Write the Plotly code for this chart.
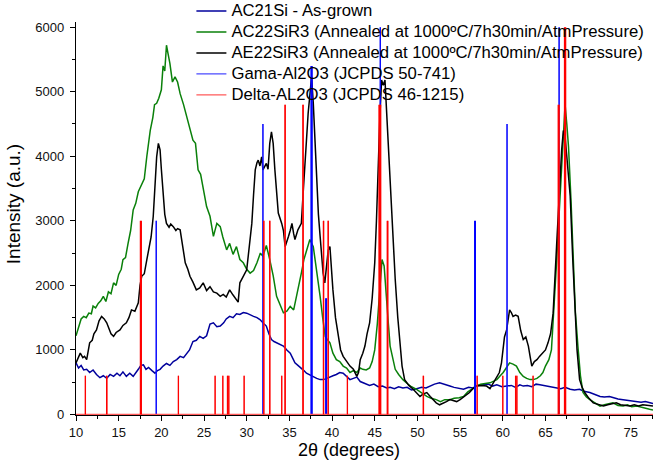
import plotly.graph_objects as go

# ---------------- data ----------------
ac21_x = [10.0,10.3,10.6,10.9,11.25,11.6,12.0,12.4,12.8,13.2,13.6,14.0,14.4,14.8,15.15,15.5,15.9,16.3,16.7,17.0,
          17.3,17.6,17.9,18.2,18.5,18.9,19.25,19.55,19.85,20.2,20.6,21.0,21.4,21.8,22.2,22.6,22.95,23.3,23.7,24.1,
          24.5,24.9,25.3,25.7,26.1,26.5,26.9,27.3,27.6,28.0,28.4,28.8,29.2,29.6,30.0,30.4,30.8,31.2,31.55,31.9,
          32.3,32.6,32.9,33.2,33.5,33.9,34.3,34.7,35.1,35.4,35.65,36.0,36.4,36.7,37.0,37.4,37.8,38.2,38.6,39.0,
          39.4,39.7,40.1,40.5,40.9,41.3,41.7,42.1,42.5,42.9,43.3,43.8,44.4,44.9,45.4,45.9,46.4,46.8,47.3,47.8,
          48.3,48.8,49.3,49.9,50.5,51.0,51.5,52.0,52.6,53.2,53.8,54.3,54.9,55.4,56.0,56.5,57.1,57.7,58.3,58.8,
          59.3,59.9,60.45,61.0,61.5,62.0,62.4,62.9,63.4,63.9,64.35,64.8,65.3,65.8,66.3,66.8,67.3,67.9,68.4,69.0,
          69.5,70.2,70.8,71.4,71.9,72.5,73.0,73.5,74.1,74.6,75.1,75.7,76.2,76.7,77.2,77.6]
ac21_y = [800,720,760,690,700,650,690,620,570,600,560,620,590,640,600,660,590,640,590,640,
          700,760,770,700,730,680,640,680,700,750,790,760,820,850,900,880,950,1000,1130,1150,
          1210,1180,1220,1400,1420,1360,1370,1420,1480,1520,1500,1560,1550,1580,1570,1540,1520,1500,1470,1420,
          1370,1250,1160,1130,1110,1080,1060,1000,950,870,800,760,720,680,640,610,590,560,540,540,
          560,580,600,620,650,640,590,540,560,580,510,480,450,470,430,440,410,420,400,430,
          410,420,380,400,420,410,440,470,490,460,440,420,400,390,420,410,450,460,470,440,
          460,430,440,450,420,460,440,450,430,470,460,450,430,420,410,400,420,390,380,390,
          360,340,310,280,270,280,260,240,230,220,210,205,190,200,180,170]

ac22_x = [10.0,10.3,10.6,10.9,11.2,11.5,11.8,12.0,12.3,12.6,12.9,13.2,13.5,13.8,14.1,14.4,14.7,15.0,15.3,15.5,
          15.8,16.1,16.4,16.7,17.0,17.3,17.7,18.0,18.3,18.7,19.0,19.2,19.45,19.7,20.0,20.2,20.4,20.6,20.8,21.0,
          21.3,21.6,21.9,22.2,22.6,23.0,23.3,23.7,24.0,24.3,24.6,24.9,25.3,25.7,26.1,26.5,26.9,27.2,27.65,28.0,
          28.4,28.8,29.2,29.6,30.0,30.4,30.8,31.2,31.6,31.9,32.3,32.7,33.1,33.5,33.9,34.3,34.7,35.1,35.5,35.85,
          36.1,36.4,36.7,37.0,37.4,37.8,38.2,38.6,38.9,39.2,39.5,39.75,40.1,40.5,40.9,41.3,41.7,42.1,42.5,42.9,
          43.3,43.6,44.0,44.4,44.7,45.0,45.3,45.6,45.85,46.1,46.4,46.6,46.8,47.1,47.4,47.8,48.3,48.8,49.3,49.9,
          50.5,51.1,51.6,52.2,52.7,53.2,53.8,54.3,54.9,55.4,55.9,56.4,56.9,57.4,58.0,58.5,59.0,59.3,59.7,60.05,
          60.4,60.8,61.2,61.6,62.0,62.4,62.8,63.2,63.6,64.0,64.4,64.7,65.0,65.4,65.7,66.0,66.3,66.6,66.9,67.1,
          67.3,67.5,67.7,68.0,68.25,68.5,68.8,69.1,69.4,69.8,70.2,70.8,71.4,71.9,72.4,72.9,73.5,74.1,74.6,75.1,
          75.7,76.2,76.7,77.2,77.6]
ac22_y = [1220,1350,1480,1520,1500,1570,1560,1680,1650,1720,1760,1830,1750,1900,1870,2040,2000,2170,2250,2400,
          2430,2650,2850,3170,3270,3450,3580,3650,4000,4400,4600,4800,4820,4900,5030,5400,5320,5720,5580,5440,
          5150,5230,5150,4970,4800,4610,4450,4250,4200,3790,3720,3500,3220,3070,2760,2960,2910,2750,2550,2650,
          2480,2600,2400,2350,2250,2190,2230,2350,2500,2450,2620,2400,2150,1830,1700,1575,1600,1675,1620,1830,
          2000,2190,2400,2550,2710,2600,2240,1830,1500,1210,1150,1110,950,850,820,750,720,650,680,650,
          720,700,690,720,820,1000,1400,1930,2400,2300,1830,1400,1060,850,700,620,540,480,430,390,
          330,280,250,230,200,230,230,250,260,280,350,400,440,470,480,490,520,540,600,650,
          720,800,780,750,650,590,560,540,540,560,600,650,750,850,1000,1600,2350,3100,3890,4500,
          4800,4500,4150,3300,2350,1600,1060,600,340,270,230,180,130,150,170,180,140,130,150,120,
          130,110,90,80,70]

ae22_x = [10.0,10.3,10.5,10.8,11.0,11.25,11.6,11.9,12.1,12.4,12.7,13.0,13.3,13.6,13.9,14.1,14.4,14.7,15.15,15.5,
          15.9,16.2,16.5,16.9,17.3,17.5,17.7,18.0,18.3,18.5,18.8,19.05,19.3,19.45,19.65,19.85,20.0,20.2,20.4,20.6,
          20.9,21.1,21.4,21.7,21.9,22.2,22.5,22.8,23.1,23.35,23.7,24.1,24.5,24.9,25.3,25.7,26.1,26.5,26.9,27.25,
          27.6,28.0,28.4,28.8,29.0,29.2,29.6,30.0,30.3,30.6,30.8,31.0,31.2,31.35,31.55,31.75,31.9,32.1,32.3,32.5,
          32.7,32.9,33.1,33.3,33.5,33.7,34.1,34.3,34.5,34.7,34.9,35.1,35.3,35.5,35.65,36.0,36.2,36.4,36.6,36.8,
          37.0,37.2,37.4,37.6,37.8,38.0,38.2,38.4,38.6,38.8,38.95,39.15,39.35,39.55,39.75,39.9,40.1,40.4,40.7,41.0,
          41.3,41.7,42.1,42.5,42.9,43.1,43.3,43.6,43.85,44.1,44.4,44.7,45.0,45.2,45.4,45.6,45.8,46.0,46.2,46.4,
          46.6,46.8,47.1,47.4,47.7,47.95,48.2,48.5,49.0,49.5,50.0,50.3,50.7,51.1,51.5,51.85,52.2,52.6,53.0,53.4,
          53.8,54.2,54.6,55.0,55.5,56.1,56.5,56.9,57.5,58.1,58.5,58.9,59.3,59.6,59.85,60.2,60.45,60.65,60.8,61.0,
          61.2,61.5,61.8,62.1,62.4,62.7,63.0,63.2,63.4,63.7,64.0,64.3,64.7,65.0,65.3,65.6,65.9,66.1,66.3,66.5,
          66.7,66.9,67.1,67.3,67.5,67.7,67.9,68.2,68.45,68.7,69.0,69.3,69.6,70.1,70.6,71.2,71.8,72.3,72.8,73.3,
          73.8,74.3,74.9,75.4,75.9,76.4,77.0,77.6]
ae22_y = [800,900,950,880,900,850,1110,1150,1250,1310,1450,1520,1480,1420,1300,1250,1210,1270,1310,1380,
          1420,1500,1620,1600,1730,2000,2140,2180,2400,2550,2750,3070,3600,3990,4200,4100,3800,3480,3100,2960,
          2900,2950,2910,2850,2880,2860,2600,2350,2250,2140,2050,1930,1960,2040,1920,1980,1900,1880,1830,1860,
          1820,1930,1850,1780,1740,2040,2140,2240,2600,2960,3400,3790,3900,3940,3850,3990,3790,3850,3890,3800,
          4200,4380,4200,3790,3400,3120,2960,2850,2600,2700,2760,2850,2960,2800,2710,2860,2920,2960,3400,3890,
          4350,4670,4950,5230,4820,4200,3630,3100,2760,2400,2190,2040,2300,2550,2600,2300,1930,1500,1210,1000,
          900,820,750,700,590,650,850,950,1060,1250,1420,1800,2350,3000,3890,4600,5180,5100,5180,4670,
          4200,3630,2800,2090,1500,1060,750,540,450,390,330,280,320,340,280,230,180,150,170,200,
          230,210,200,230,280,340,400,440,450,440,400,490,600,650,800,1200,1310,1500,1620,1580,
          1520,1540,1520,1300,1160,1200,1060,900,750,820,850,900,950,1000,1110,1250,1570,2000,2600,3100,
          3630,4100,4400,4300,4000,3700,3380,2400,1570,1000,540,420,340,250,180,160,130,150,170,180,
          150,140,130,150,130,150,140,130]

gama_pos = [19.4, 31.9, 37.6, 39.3, 45.65, 56.75, 60.5, 66.6]
gama_int = [3000, 4500, 5400, 1800, 6000, 3000, 4500, 6000]

delta_pos = [11.1, 13.6, 17.6, 22.0, 26.3, 27.2, 27.75, 27.9, 29.7, 32.0, 32.7, 34.1, 34.5, 36.6,
             39.0, 39.55, 41.8, 45.6, 46.5, 50.7, 57.0, 60.0, 61.5, 61.65, 63.55, 66.55, 67.3]
delta_int = [600, 600, 3000, 600, 600, 600, 600, 600, 600, 3000, 3000, 600, 4800, 4800,
             3000, 3000, 600, 4800, 3000, 600, 600, 600, 600, 600, 600, 4800, 6000]

series_names = ["AC21Si - As-grown",
                "AC22SiR3 (Annealed at 1000ºC/7h30min/AtmPressure)",
                "AE22SiR3 (Annealed at 1000ºC/7h30min/AtmPressure)",
                "Gama-Al2O3 (JCPDS 50-741)",
                "Delta-AL2O3 (JCPDS 46-1215)"]

x_min, x_max = 10.0, 77.6

# ---------------- styles ----------------
gama_widths = [1.2, 1.2, 2.4, 2.0, 1.2, 2.0, 1.2, 1.2]
delta_widths = [1.2, 1.5, 2.2, 1.2, 1.2, 1.2, 1.2, 1.2, 1.2, 1.4, 1.4, 1.2, 1.5, 1.6,
                1.4, 1.4, 1.2, 3.0, 1.8, 1.4, 1.2, 1.2, 1.2, 1.2, 1.2, 2.2, 2.4]

FONT = "Liberation Sans, Arial, sans-serif"
LEG_FS = 16.7


def leg(name):
    return '<span style="font-size:%spx">%s</span>' % (LEG_FS, name)


def stick_path(pos, inten):
    xs, ys = [x_min], [0]
    for p, h in zip(pos, inten):
        xs += [p, p, p]
        ys += [0, h, 0]
    xs.append(x_max)
    ys.append(0)
    return xs, ys


fig = go.Figure()
fig.add_trace(go.Scatter(x=ac21_x, y=ac21_y, mode="lines", name=leg(series_names[0]),
                         line=dict(color="#00009c", width=1.5)))
fig.add_trace(go.Scatter(x=ac22_x, y=ac22_y, mode="lines", name=leg(series_names[1]),
                         line=dict(color="#0a800a", width=1.5)))
fig.add_trace(go.Scatter(x=ae22_x, y=ae22_y, mode="lines", name=leg(series_names[2]),
                         line=dict(color="#000000", width=1.5)))

gx, gy = stick_path(gama_pos, gama_int)
fig.add_trace(go.Scatter(x=gx, y=gy, mode="lines", name=leg(series_names[3]),
                         legendgroup="g", line=dict(color="#4a4aff", width=1.1)))
for p, h, w in zip(gama_pos, gama_int, gama_widths):
    fig.add_trace(go.Scatter(x=[p, p], y=[0, h], mode="lines", legendgroup="g", showlegend=False,
                             hoverinfo="skip", line=dict(color="#0000ff", width=w)))

dx, dy = stick_path(delta_pos, delta_int)
fig.add_trace(go.Scatter(x=dx, y=dy, mode="lines", name=leg(series_names[4]),
                         legendgroup="d", line=dict(color="#ff5a5a", width=1.3)))
for p, h, w in zip(delta_pos, delta_int, delta_widths):
    fig.add_trace(go.Scatter(x=[p, p], y=[0, h], mode="lines", legendgroup="d", showlegend=False,
                             hoverinfo="skip", line=dict(color="#ff0000", width=w)))

axis_common = dict(showgrid=False, zeroline=False, showline=True, linecolor="#000000", linewidth=1.3,
                   ticks="outside", ticklen=5, tickwidth=1.2, tickcolor="#000000",
                   tickfont=dict(family=FONT, size=13, color="#111111"), layer="below traces")

fig.update_layout(
    width=655, height=463,
    margin=dict(l=76, r=2, t=22, b=48, autoexpand=False),
    paper_bgcolor="white", plot_bgcolor="white",
    font=dict(family=FONT, color="#000000"),
    showlegend=True,
    legend=dict(x=0.2, y=1.0672, xanchor="left", yanchor="top", bgcolor="rgba(0,0,0,0)",
                borderwidth=0, font=dict(family=FONT, size=13.8, color="#000000"),
                tracegroupgap=0),
    xaxis=dict(range=[x_min, x_max], tick0=10, dtick=5,
               minor=dict(ticks="outside", ticklen=3, dtick=2.5, tickcolor="#000000", showgrid=False),
               **axis_common),
    yaxis=dict(range=[-8, 6080], tick0=0, dtick=1000, ticklabelstandoff=3,
               minor=dict(ticks="outside", ticklen=3, dtick=500, tickcolor="#000000", showgrid=False),
               **axis_common),
    annotations=[
        dict(text="2θ (degrees)", xref="paper", yref="paper", x=0.473, y=-0.0885,
             xanchor="center", yanchor="middle", showarrow=False,
             font=dict(family=FONT, size=18, color="#000000")),
        dict(text="Intensity (a.u.)", xref="paper", yref="paper", x=-0.107, y=0.537,
             xanchor="center", yanchor="middle", showarrow=False, textangle=-90,
             font=dict(family=FONT, size=19, color="#000000")),
    ],
)

fig.write_html("out.html", config={"displayModeBar": False},
               post_script="document.body.style.margin='0';document.body.style.overflow='hidden';")
